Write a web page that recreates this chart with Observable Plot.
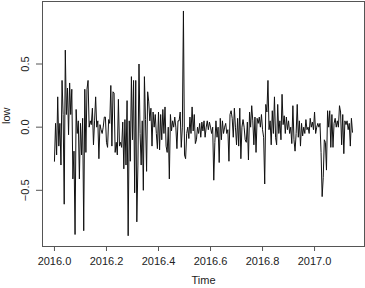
<!DOCTYPE html>
<html>
<head>
<meta charset="utf-8">
<script src="https://cdn.jsdelivr.net/npm/d3@7"></script>
<script src="https://cdn.jsdelivr.net/npm/@observablehq/plot@0.6"></script>
<style>
  html, body { margin: 0; padding: 0; background: #fff; }
  #chart svg { display: block; }
</style>
</head>
<body>
<div id="chart"></div>
<script>
// Time series "low": start 2016.0, frequency 240 observations per unit of time
const start = 2016;
const frequency = 240;
const low = [
  -0.27, 0.03, -0.22, 0.24, -0.15, 0.03, -0.30, 0.37, 0.10, -0.61,
  0.61, 0.10, 0.31, -0.06, 0.35, 0.10, 0.30, -0.41, -0.19, -0.85,
  0.14, -0.05, 0.05, -0.41, 0.03, -0.22, 0.07, -0.82, 0.30, -0.20,
  0.30, 0.37, 0.00, 0.05, 0.02, 0.15, -0.14, 0.05, 0.24, 0.00,
  0.05, -0.25, 0.02, -0.02, -0.05, 0.00, 0.08, 0.08, -0.12, -0.16,
  0.06, 0.03, 0.33, -0.15, 0.28, 0.27, -0.20, -0.12, -0.22, 0.22,
  -0.15, -0.12, -0.16, 0.04, -0.33, 0.06, -0.30, 0.21, -0.86, 0.05,
  -0.27, 0.40, -0.10, 0.37, -0.52, 0.37, -0.75, -0.30, 0.50, -0.05,
  -0.30, 0.05, -0.50, 0.40, 0.06, -0.35, 0.28, 0.20, 0.05, 0.15,
  -0.15, 0.12, 0.00, 0.10, -0.05, -0.17, 0.12, -0.18, 0.10, -0.10,
  0.14, -0.05, 0.16, -0.15, -0.20, 0.00, -0.41, 0.10, -0.03, 0.05,
  0.00, 0.08, 0.00, -0.17, 0.05, 0.05, 0.12, -0.16, 0.00, 0.92,
  -0.22, -0.25, -0.05, 0.00, -0.09, 0.08, -0.05, 0.16, -0.03, 0.10,
  -0.13, -0.10, 0.00, -0.05, 0.03, -0.08, 0.04, -0.03, 0.05, -0.08,
  0.00, 0.05, -0.02, 0.04, 0.00, -0.05, 0.00, -0.42, -0.12, 0.05,
  -0.08, 0.00, -0.28, 0.07, -0.10, 0.05, -0.05, 0.00, 0.03, -0.05,
  -0.02, -0.27, 0.10, 0.13, 0.07, -0.08, 0.15, 0.00, -0.14, 0.07,
  -0.15, 0.15, -0.25, 0.00, 0.06, 0.00, -0.10, -0.12, 0.04, -0.26,
  0.12, 0.00, 0.17, 0.05, -0.14, 0.08, -0.20, 0.07, 0.03, 0.08,
  0.00, 0.10, -0.02, -0.08, -0.45, 0.18, 0.12, 0.37, -0.02, 0.05,
  -0.14, 0.13, -0.05, 0.24, -0.08, -0.14, 0.18, -0.05, 0.05, -0.10,
  0.26, 0.02, 0.09, -0.05, 0.08, -0.02, 0.05, -0.05, 0.00, -0.13,
  0.17, -0.10, -0.19, -0.05, 0.18, -0.08, 0.05, -0.15, 0.03, -0.07,
  0.00, -0.05, 0.06, -0.02, 0.00, -0.05, 0.07, 0.00, 0.04, -0.02,
  0.12, -0.05, 0.00, 0.03, 0.00, 0.03, -0.20, -0.55, -0.40, -0.10,
  -0.12, -0.34, 0.13, 0.00, 0.13, -0.16, 0.10, -0.16, 0.03, 0.07,
  0.00, 0.05, 0.00, 0.17, 0.12, -0.14, 0.10, -0.21, 0.05, 0.02,
  0.05, -0.02, 0.03, -0.15, 0.07, -0.04
];
const xTicks = [2016.0, 2016.2, 2016.4, 2016.6, 2016.8, 2017.0];
const yTicks = [-0.5, 0.0, 0.5];
const xLabel = "Time";
const yLabel = "low";

const data = low.map((v, i) => ({t: start + i / frequency, v}));
const fmt = d3.format(".1f");

const plot = Plot.plot({
  width: 365,
  height: 288,
  marginLeft: 42,
  marginRight: 1,
  marginTop: 1,
  marginBottom: 42,
  style: {fontFamily: "'Liberation Sans', Arial, Helvetica, sans-serif", fontSize: "11px", color: "#222", background: "#fff"},
  x: {domain: [2015.954, 2017.192]},
  y: {domain: [-0.945, 0.995]},
  marks: [
    Plot.lineY(data, {x: "t", y: "v", stroke: "#111", strokeWidth: 1}),
    Plot.frame({stroke: "#555", strokeWidth: 1}),
    Plot.axisX({ticks: xTicks, tickSize: 5, tickPadding: 6, tickFormat: fmt, label: null, stroke: "#555", fill: "#222"}),
    Plot.axisY({ticks: yTicks, tickSize: 6, tickFormat: () => "", label: null, stroke: "#555"}),
    Plot.text(yTicks, {y: d => d, frameAnchor: "left", dx: -17, rotate: -90, text: d => fmt(d), fill: "#222", textAnchor: "middle"}),
    Plot.text([xLabel], {frameAnchor: "bottom", dy: 37, text: d => d, fill: "#222"}),
    Plot.text([yLabel], {frameAnchor: "left", dx: -36, rotate: -90, text: d => d, fill: "#222"})
  ]
});
document.getElementById("chart").appendChild(plot);
</script>
</body>
</html>
